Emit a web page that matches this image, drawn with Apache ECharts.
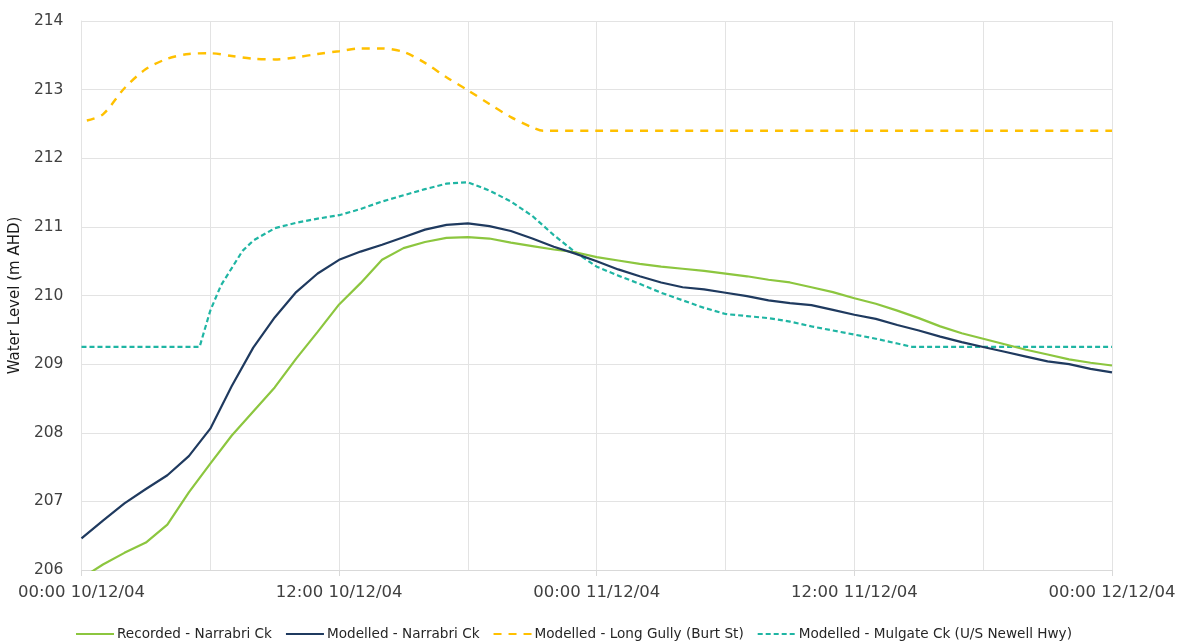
<!DOCTYPE html>
<html>
<head>
<meta charset="utf-8">
<script src="https://cdn.jsdelivr.net/npm/echarts@6/dist/echarts.min.js"></script>
<style>html,body{margin:0;padding:0;background:#fff}#c{width:1179px;height:643px}</style>
</head>
<body>
<div id="c"></div>
<script>
// Time in hours from 00:00 10/12/04
var xTickLabels = ['00:00 10/12/04', '12:00 10/12/04', '00:00 11/12/04', '12:00 11/12/04', '00:00 12/12/04'];
var seriesNames = ['Recorded - Narrabri Ck', 'Modelled - Narrabri Ck', 'Modelled - Long Gully (Burt St)', 'Modelled - Mulgate Ck (U/S Newell Hwy)'];

var hoursHourly = [0,1,2,3,4,5,6,7,8,9,10,11,12,13,14,15,16,17,18,19,20,21,22,23,24,25,26,27,28,29,30,31,32,33,34,35,36,37,38,39,40,41,42,43,44,45,46,47,48];

var recordedNarrabri = [205.88,206.08,206.25,206.40,206.66,207.13,207.55,207.96,208.31,208.66,209.08,209.47,209.87,210.18,210.52,210.69,210.78,210.84,210.85,210.83,210.77,210.72,210.67,210.63,210.56,210.51,210.46,210.42,210.39,210.36,210.32,210.28,210.23,210.19,210.12,210.05,209.96,209.88,209.78,209.67,209.55,209.45,209.37,209.29,209.21,209.14,209.07,209.02,208.98];

var modelledNarrabri = [206.46,206.72,206.97,207.18,207.38,207.66,208.06,208.68,209.24,209.68,210.05,210.32,210.52,210.64,210.74,210.85,210.96,211.03,211.05,211.01,210.94,210.83,210.71,210.61,210.50,210.38,210.28,210.19,210.12,210.09,210.04,209.99,209.93,209.89,209.86,209.79,209.72,209.66,209.57,209.49,209.40,209.32,209.25,209.18,209.11,209.04,209.00,208.93,208.88];

var hoursLongGully = [0.25,1,2,3,4,5,6,7,8,9,10,11,12,13,14,15,16,17,18,19,20,21,21.5,24,30,36,42,48];
var modelledLongGully = [212.55,212.64,213.02,213.30,213.45,213.52,213.53,213.49,213.45,213.44,213.47,213.52,213.56,213.60,213.60,213.55,213.39,213.18,212.99,212.79,212.60,212.45,212.40,212.40,212.40,212.40,212.40,212.40];

var hoursMulgate = [0,2,4,5.5,6,6.5,7,7.5,8,9,10,11,12,13,14,15,16,17,18,19,20,21,22,23,24,25,26,27,28,29,30,31,32,33,34,35,36,37,38,38.7,42,45,48];
var modelledMulgate = [209.25,209.25,209.25,209.25,209.78,210.15,210.40,210.65,210.80,210.98,211.06,211.12,211.17,211.26,211.37,211.46,211.55,211.63,211.65,211.53,211.37,211.16,210.88,210.63,210.42,210.29,210.17,210.04,209.93,209.82,209.73,209.70,209.67,209.62,209.55,209.49,209.43,209.37,209.30,209.25,209.25,209.25,209.25];

function pairs(xs, ys) { return xs.map(function (x, i) { return [x, ys[i]]; }); }

var FONT = 'DejaVu Sans';
var chart = echarts.init(document.getElementById('c'));
chart.setOption({
  animation: false,
  textStyle: { fontFamily: FONT },
  grid: { left: 81, right: 67, top: 21, bottom: 73, containLabel: false },
  legend: {
    top: 622, left: 70,
    itemWidth: 38, itemHeight: 14, itemGap: 13,
    itemStyle: { opacity: 0, borderWidth: 0 },
    textStyle: { fontFamily: FONT, fontSize: 13.6, color: '#262626', padding: [0, 0, 0, -2] },
    data: seriesNames
  },
  xAxis: [{
    type: 'value', min: 0, max: 48, interval: 12,
    axisLine: { show: true, lineStyle: { color: '#d9d9d9', width: 1 } },
    axisTick: { show: true, length: 6, lineStyle: { color: '#d9d9d9' } },
    splitLine: { show: false },
    axisLabel: {
      fontFamily: FONT, fontSize: 16.5, color: '#404040', margin: 14,
      formatter: function (v) { return xTickLabels[Math.round(v / 12)]; }
    }
  }, {
    type: 'value', min: 0, max: 48, interval: 6, position: 'bottom',
    axisLine: { show: false }, axisTick: { show: false }, axisLabel: { show: false },
    splitLine: { show: true, lineStyle: { color: '#e3e3e3', width: 1 } }
  }],
  yAxis: {
    type: 'value', min: 206, max: 214, interval: 1,
    name: 'Water Level (m AHD)', nameLocation: 'middle', nameGap: 53, nameRotate: 90,
    nameTextStyle: { fontFamily: FONT, fontSize: 15, color: '#1a1a1a' },
    axisLine: { show: true, lineStyle: { color: '#e3e3e3' } },
    axisTick: { show: false },
    splitLine: { show: true, lineStyle: { color: '#e3e3e3', width: 1 } },
    axisLabel: { fontFamily: FONT, fontSize: 15.5, color: '#404040', margin: 18 }
  },
  series: [{
    name: seriesNames[0], type: 'line', showSymbol: false, symbol: 'none',
    data: pairs(hoursHourly, recordedNarrabri),
    lineStyle: { color: '#8cc63f', width: 2.2 }, itemStyle: { color: '#8cc63f' }, z: 3
  }, {
    name: seriesNames[1], type: 'line', showSymbol: false, symbol: 'none',
    data: pairs(hoursHourly, modelledNarrabri),
    lineStyle: { color: '#1f3a5f', width: 2.2 }, itemStyle: { color: '#1f3a5f' }, z: 4
  }, {
    name: seriesNames[2], type: 'line', showSymbol: false, symbol: 'none', smooth: 0.3,
    data: pairs(hoursLongGully, modelledLongGully),
    lineStyle: { color: '#ffc000', width: 2.4, type: [8, 7] }, itemStyle: { color: '#ffc000' }, z: 2
  }, {
    name: seriesNames[3], type: 'line', showSymbol: false, symbol: 'none',
    data: pairs(hoursMulgate, modelledMulgate),
    lineStyle: { color: '#1fb5a3', width: 2.2, type: [5, 3] }, itemStyle: { color: '#1fb5a3' }, z: 2
  }]
});
</script>
</body>
</html>
